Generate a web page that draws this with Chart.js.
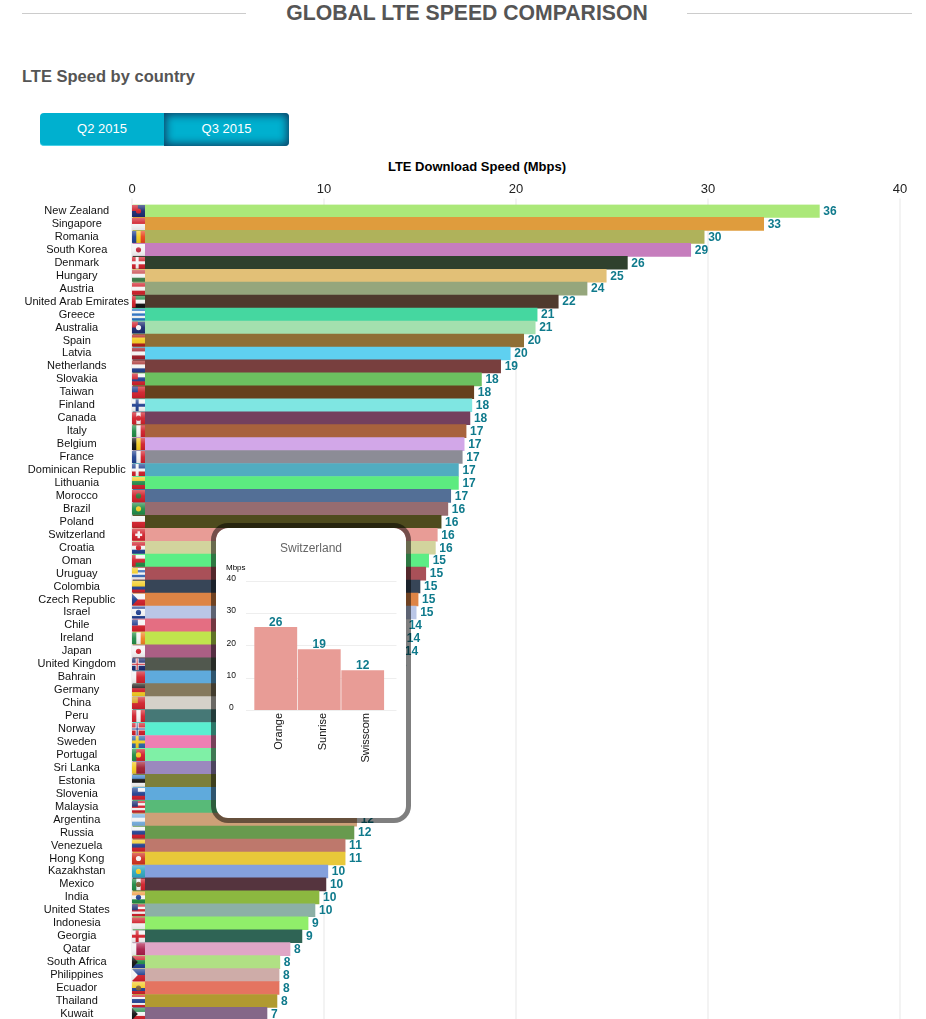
<!DOCTYPE html>
<html>
<head>
<meta charset="utf-8">
<title>Global LTE speed comparison</title>
<script src="https://cdn.jsdelivr.net/npm/chart.js@4"></script>
<style>
  html, body { margin: 0; padding: 0; width: 926px; height: 1019px; overflow: hidden; background: #fff; font-family: "Liberation Sans", Arial, sans-serif; }
  .rule { position: absolute; top: 13px; height: 1px; background: #ccc; }
  h1 { position: absolute; left: 0; top: 0; width: 934px; margin: 0; text-align: center; font-size: 21.2px; line-height: 25px; font-weight: bold; color: #555; }
  h2 { position: absolute; left: 22px; top: 66px; margin: 0; font-size: 16.5px; line-height: 20px; font-weight: bold; color: #555; }
  .btn { position: absolute; top: 113px; height: 33px; line-height: 32px; text-align: center; color: #fff; font-size: 13px; background: #00b0cf; box-sizing: border-box; }
  .btn.q2 { left: 40px; width: 124px; border-radius: 4px 0 0 4px; border-bottom: 1px solid #48d0e6; }
  .btn.q3 { left: 164px; width: 125px; border-radius: 0 4px 4px 0; box-shadow: inset 0 0 9px 2px #0d3f63; }
  #axis-title { position: absolute; left: 277px; width: 400px; top: 159px; text-align: center; font-size: 13px; line-height: 16px; font-weight: bold; color: #000; }
  #main-wrap { position: absolute; left: 0; top: 170px; width: 926px; height: 860px; }
  #popup { position: absolute; left: 211px; top: 523px; width: 200px; height: 300px; box-sizing: border-box; border: 5px solid rgba(0, 0, 0, 0.5); border-radius: 17px; background: #fff; background-clip: padding-box; }
  #popup-title { position: absolute; left: 0; right: 0; top: 13px; text-align: center; font-size: 12px; line-height: 14px; color: #666; }
  #popup-unit { position: absolute; left: 10px; top: 35px; font-size: 8px; line-height: 10px; color: #000; }
  #popup-wrap { position: absolute; left: 0; top: 0; width: 190px; height: 290px; }
</style>
</head>
<body>
<div class="rule" style="left:22px;width:224px"></div>
<div class="rule" style="left:687px;width:225px"></div>
<h1>GLOBAL LTE SPEED COMPARISON</h1>
<h2>LTE Speed by country</h2>
<div class="btn q2">Q2 2015</div>
<div class="btn q3">Q3 2015</div>
<div id="axis-title">LTE Download Speed (Mbps)</div>
<div id="main-wrap"><canvas id="chart-main"></canvas></div>
<div id="popup">
  <div id="popup-wrap"><canvas id="chart-popup"></canvas></div>
  <div id="popup-title">Switzerland</div>
  <div id="popup-unit">Mbps</div>
</div>

<script>
const countries = [
  "New Zealand", "Singapore", "Romania", "South Korea", "Denmark", "Hungary", "Austria", "United Arab Emirates", "Greece",
  "Australia", "Spain", "Latvia", "Netherlands", "Slovakia", "Taiwan", "Finland", "Canada", "Italy", "Belgium", "France",
  "Dominican Republic", "Lithuania", "Morocco", "Brazil", "Poland", "Switzerland", "Croatia", "Oman", "Uruguay", "Colombia",
  "Czech Republic", "Israel", "Chile", "Ireland", "Japan", "United Kingdom", "Bahrain", "Germany", "China", "Peru",
  "Norway", "Sweden", "Portugal", "Sri Lanka", "Estonia", "Slovenia", "Malaysia", "Argentina", "Russia", "Venezuela",
  "Hong Kong", "Kazakhstan", "Mexico", "India", "United States", "Indonesia", "Georgia", "Qatar", "South Africa",
  "Philippines", "Ecuador", "Thailand", "Kuwait",
];

const speeds = [
  35.8, 32.9, 29.8, 29.1, 25.8, 24.7, 23.7, 22.2, 21.1,
  21.0, 20.4, 19.7, 19.2, 18.2, 17.8, 17.7, 17.6, 17.4, 17.3, 17.2,
  17.0, 17.0, 16.6, 16.45, 16.1, 15.9, 15.8, 15.45, 15.3, 15.0,
  14.9, 14.8, 14.2, 14.1, 14.0, 13.4, 13.3, 13.1, 13.0, 12.9,
  12.7, 12.6, 12.5, 12.4, 12.2, 12.1, 12.0, 11.7, 11.56, 11.1,
  11.1, 10.2, 10.1, 9.74, 9.53, 9.17, 8.85, 8.23, 7.7,
  7.66, 7.66, 7.55, 7.03,
];

const operators = ["Orange", "Sunrise", "Swisscom"];
const operatorSpeeds = [25.6, 18.8, 12.3];
const speedTicks = [0, 10, 20, 30, 40];

// one colour per country, same order as above
const barColors = [
  "#abe879", "#df9c3d", "#afb25b", "#c67dbd", "#2f412d", "#e2c077", "#95a67c", "#4f3a2d", "#45d7a0",
  "#a3e0ae", "#8f6f36", "#5fd0f0", "#783f3e", "#6cc060", "#66401e", "#7fe6e2", "#74405e", "#a8623d", "#d2a7e8", "#8c8c96",
  "#51acc0", "#5ceb80", "#536f96", "#966c70", "#4e4b1e", "#e89c96", "#d2d49d", "#5cee85", "#a95058", "#374557",
  "#de8445", "#bac6e6", "#e46e82", "#c0e44d", "#ab5f84", "#51584e", "#5faadc", "#85795d", "#d5d1c9", "#467876",
  "#5aeed0", "#ee80b3", "#7ff0a6", "#9b88be", "#7c7f3a", "#5faadc", "#58ba78", "#cda078", "#689a4e", "#be786c",
  "#e8c83a", "#84a0dc", "#55343e", "#8cb840", "#8cb0a6", "#90ee6a", "#2f6455", "#e0a6c6", "#b0e084",
  "#ceaca8", "#e47460", "#b09a30", "#846788",
];

const R = "#d01f2a", W = "#f4f4f4", B = "#1f3f8f", N = "#1a2a70", G = "#1f8a45", Y = "#f2cb20", K = "#111111";

// little flags: h/v stripes, plus optional canton, hoist bar, triangle, cross, plus, dot
const flags = {
  "New Zealand": { h: [N], canton: R, dot: R },
  "Singapore": { h: [R, W] },
  "Romania": { v: [B, Y, "#e8431a"] },
  "South Korea": { h: [W], dot: "#c0243a" },
  "Denmark": { h: [R], cross: [W] },
  "Hungary": { h: ["#c8464a", W, "#3a7d48"] },
  "Austria": { h: [R, W, R] },
  "United Arab Emirates": { h: [G, W, K], bar: R },
  "Greece": { h: ["#2a6fc0", W, "#2a6fc0", W, "#2a6fc0"] },
  "Australia": { h: [N], canton: R, dot: W },
  "Spain": { h: ["#b01c1c", Y, Y, "#b01c1c"] },
  "Latvia": { h: ["#a01c28", W, "#a01c28"] },
  "Netherlands": { h: ["#a83030", W, B] },
  "Slovakia": { h: [W, B, R], canton: R },
  "Taiwan": { h: [R], canton: B },
  "Finland": { h: [W], cross: [B] },
  "Canada": { v: [R, W, R], dot: R },
  "Italy": { v: [G, W, R] },
  "Belgium": { v: [K, Y, R] },
  "France": { v: [B, W, R] },
  "Dominican Republic": { h: [B, R], cross: [W] },
  "Lithuania": { h: [Y, G, R] },
  "Morocco": { h: [R], dot: "#2a7a3a" },
  "Brazil": { h: [G], dot: Y },
  "Poland": { h: [W, R] },
  "Switzerland": { h: [R], plus: W },
  "Croatia": { h: [R, W, B], dot: R },
  "Oman": { h: [W, R, G], bar: R },
  "Uruguay": { h: [W, "#3565b5", W, "#3565b5", W], canton: Y },
  "Colombia": { h: [Y, Y, B, R] },
  "Czech Republic": { h: [W, R], tri: B },
  "Israel": { h: [B, W, W, W, B], dot: B },
  "Chile": { h: [W, R], canton: B },
  "Ireland": { v: [G, W, "#ef8020"] },
  "Japan": { h: [W], dot: R },
  "United Kingdom": { h: [N], cross: [W, R] },
  "Bahrain": { v: [W, R, R] },
  "Germany": { h: [K, R, Y] },
  "China": { h: [R], canton: "#d8a020" },
  "Peru": { v: [R, W, R] },
  "Norway": { h: [R], cross: [W, B] },
  "Sweden": { h: ["#2a62a8"], cross: [Y] },
  "Portugal": { v: [G, R, R], dot: Y },
  "Sri Lanka": { v: [Y, "#a01c30", "#a01c30"] },
  "Estonia": { h: ["#3a7fc8", K, W] },
  "Slovenia": { h: [W, B, R], canton: B },
  "Malaysia": { h: [R, W, R, W, R], canton: N },
  "Argentina": { h: ["#78b0e0", W, "#78b0e0"] },
  "Russia": { h: [W, B, R] },
  "Venezuela": { h: [Y, B, R] },
  "Hong Kong": { h: ["#d03020"], dot: W },
  "Kazakhstan": { h: ["#30a8c0"], dot: Y },
  "Mexico": { v: [G, W, R], dot: "#7a5a30" },
  "India": { h: ["#f09a40", W, G], dot: B },
  "United States": { h: [R, W, R, W, R], canton: N },
  "Indonesia": { h: [R, W] },
  "Georgia": { h: [W], cross: [R] },
  "Qatar": { v: [W, "#a81c48", "#a81c48"] },
  "South Africa": { h: [R, G, B], tri: K },
  "Philippines": { h: [B, R], tri: W },
  "Ecuador": { h: [Y, Y, B, R], dot: "#7a5a30" },
  "Thailand": { h: [R, W, B, B, W, R] },
  "Kuwait": { h: [G, W, R], tri: K },
};

const labelColor = "#0f7a8c";

function drawFlag(ctx, f, x, y, w, h) {
  ctx.save();
  ctx.beginPath();
  ctx.rect(x, y, w, h);
  ctx.clip();
  const stripes = f.h || f.v;
  stripes.forEach((c, i) => {
    ctx.fillStyle = c;
    if (f.h) ctx.fillRect(x, y + (i * h) / stripes.length, w, h / stripes.length + 0.5);
    else ctx.fillRect(x + (i * w) / stripes.length, y, w / stripes.length + 0.5, h);
  });
  if (f.cross) {
    ctx.fillStyle = f.cross[0];
    ctx.fillRect(x + w * 0.28, y, 3, h);
    ctx.fillRect(x, y + h / 2 - 1.5, w, 3);
    if (f.cross[1]) {
      ctx.fillStyle = f.cross[1];
      ctx.fillRect(x + w * 0.28 + 1, y, 1, h);
      ctx.fillRect(x, y + h / 2 - 0.5, w, 1);
    }
  }
  if (f.canton) {
    ctx.fillStyle = f.canton;
    ctx.fillRect(x, y, w * 0.45, h * 0.5);
  }
  if (f.bar) {
    ctx.fillStyle = f.bar;
    ctx.fillRect(x, y, w * 0.28, h);
  }
  if (f.tri) {
    ctx.fillStyle = f.tri;
    ctx.beginPath();
    ctx.moveTo(x, y);
    ctx.lineTo(x + w * 0.45, y + h / 2);
    ctx.lineTo(x, y + h);
    ctx.fill();
  }
  if (f.plus) {
    ctx.fillStyle = f.plus;
    ctx.fillRect(x + w / 2 - 1, y + h / 2 - 3.5, 2.5, 7);
    ctx.fillRect(x + w / 2 - 3.3, y + h / 2 - 1.2, 7, 2.5);
  }
  if (f.dot) {
    ctx.fillStyle = f.dot;
    ctx.beginPath();
    ctx.arc(x + w / 2, y + h / 2, 2.6, 0, Math.PI * 2);
    ctx.fill();
  }
  // glossy top like the original icons
  const gloss = ctx.createLinearGradient(0, y, 0, y + h);
  gloss.addColorStop(0, "rgba(255,255,255,0.35)");
  gloss.addColorStop(0.5, "rgba(255,255,255,0.05)");
  gloss.addColorStop(1, "rgba(0,0,0,0.08)");
  ctx.fillStyle = gloss;
  ctx.fillRect(x, y, w, h);
  ctx.restore();
}

const flagPlugin = {
  id: "flagIcons",
  afterDatasetsDraw(chart) {
    const y = chart.scales.y;
    const left = chart.scales.x.getPixelForValue(0);
    countries.forEach((name, i) => {
      drawFlag(chart.ctx, flags[name], left, y.getPixelForValue(i) - 6, 13, 12);
    });
  },
};

// value at the end of each bar, rounded like the original
const valueLabelPlugin = {
  id: "valueLabels",
  afterDatasetsDraw(chart) {
    const ctx = chart.ctx;
    const horizontal = chart.options.indexAxis === "y";
    const values = chart.data.datasets[0].data;
    ctx.save();
    ctx.font = "bold 12px 'Liberation Sans', Arial, sans-serif";
    ctx.fillStyle = labelColor;
    chart.getDatasetMeta(0).data.forEach((bar, i) => {
      const text = String(Math.round(values[i]));
      if (horizontal) {
        ctx.textAlign = "left";
        ctx.textBaseline = "middle";
        ctx.fillText(text, bar.x + 4, bar.y + 0.5);
      } else {
        ctx.textAlign = "center";
        ctx.textBaseline = "bottom";
        ctx.fillText(text, bar.x, bar.y + 2);
      }
    });
    ctx.restore();
  },
};

// popup gridlines run past the bars on both sides
const popupGridPlugin = {
  id: "popupGrid",
  beforeDatasetsDraw(chart) {
    const ctx = chart.ctx;
    const { left, right } = chart.chartArea;
    ctx.save();
    ctx.strokeStyle = "#eeeeee";
    ctx.lineWidth = 1;
    chart.scales.y.ticks.forEach((t) => {
      const py = Math.round(chart.scales.y.getPixelForValue(t.value)) + 0.5;
      ctx.beginPath();
      ctx.moveTo(left - 8, py);
      ctx.lineTo(right + 12, py);
      ctx.stroke();
    });
    ctx.restore();
  },
};

Chart.defaults.font.family = "'Liberation Sans', Arial, sans-serif";

new Chart(document.getElementById("chart-main"), {
  type: "bar",
  plugins: [flagPlugin, valueLabelPlugin],
  data: {
    labels: countries,
    datasets: [{ data: speeds, backgroundColor: barColors, barPercentage: 1, categoryPercentage: 1 }],
  },
  options: {
    indexAxis: "y",
    responsive: true,
    maintainAspectRatio: false,
    animation: false,
    layout: { padding: { right: 26, left: 0, top: 0, bottom: 0 } },
    plugins: { legend: { display: false }, tooltip: { enabled: false } },
    scales: {
      x: {
        position: "top",
        min: 0,
        max: 40,
        afterBuildTicks(scale) { scale.ticks = speedTicks.map((value) => ({ value })); },
        afterFit(scale) { scale.height = 34.5; },
        grid: { color: "#f3f3f3", lineWidth: 2, tickLength: 6 },
        border: { display: false },
        ticks: { color: "#222", font: { size: 13 }, padding: 1, maxRotation: 0 },
      },
      y: {
        afterFit(scale) { scale.width = 132; },
        grid: { display: false, drawTicks: false },
        border: { display: false },
        ticks: { color: "#111", font: { size: 11 }, autoSkip: false, crossAlign: "center", padding: 3 },
      },
    },
  },
});

new Chart(document.getElementById("chart-popup"), {
  type: "bar",
  plugins: [popupGridPlugin, valueLabelPlugin],
  data: {
    labels: operators,
    datasets: [{ data: operatorSpeeds, backgroundColor: "#e89c96", barPercentage: 0.985, categoryPercentage: 1 }],
  },
  options: {
    responsive: true,
    maintainAspectRatio: false,
    animation: false,
    layout: { padding: { top: 52.5, right: 21.5, left: 0, bottom: 0 } },
    plugins: { legend: { display: false }, tooltip: { enabled: false } },
    scales: {
      x: {
        afterFit(scale) { scale.height = 108; },
        grid: { display: false },
        border: { display: false },
        ticks: { color: "#111", font: { size: 11 }, minRotation: 90, maxRotation: 90, padding: -5, labelOffset: 3.5 },
      },
      y: {
        min: 0,
        max: 40,
        afterFit(scale) { scale.width = 38; },
        grid: { display: false, drawTicks: false },
        border: { display: false },
        ticks: { color: "#111", font: { size: 8.5 }, stepSize: 10, padding: 18, crossAlign: "center", labelOffset: -2 },
      },
    },
  },
});
</script>
</body>
</html>
